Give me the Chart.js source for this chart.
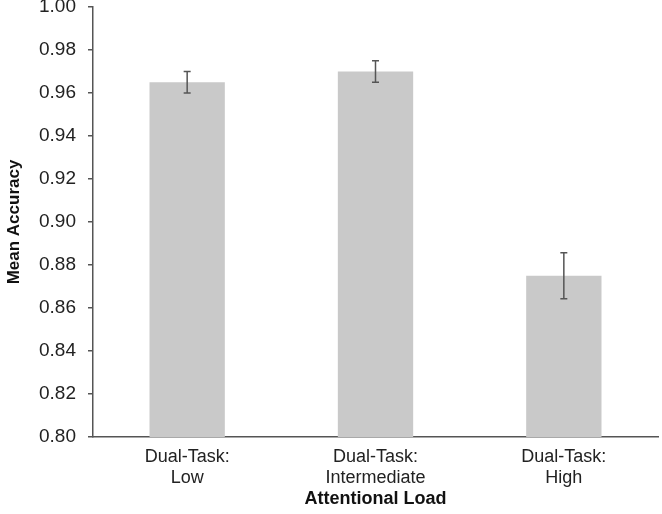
<!DOCTYPE html>
<html>
<head>
<meta charset="utf-8">
<script src="https://cdn.jsdelivr.net/npm/chart.js@4"></script>
<style>
  html, body { margin: 0; padding: 0; background: #fff; }
  #wrap { width: 662px; height: 514px; }
</style>
</head>
<body>
<div id="wrap"><canvas id="chart" width="662" height="514"></canvas></div>
<script>
// categorías y valores
const categories = [['Dual-Task:', 'Low'], ['Dual-Task:', 'Intermediate'], ['Dual-Task:', 'High']];
const meanAccuracy = [0.965, 0.970, 0.875];
const errorValues = [0.005, 0.005, 0.0107];
const yTicks = [0.80, 0.82, 0.84, 0.86, 0.88, 0.90, 0.92, 0.94, 0.96, 0.98, 1.00];

// barras de error dibujadas con las escalas del gráfico
const errorBarPlugin = {
  id: 'errorBars',
  afterDatasetsDraw(chart) {
    const ctx = chart.ctx;
    const x = chart.scales.x;
    const y = chart.scales.y;
    ctx.save();
    ctx.strokeStyle = '#555';
    ctx.lineWidth = 1.5;
    meanAccuracy.forEach((v, i) => {
      const cx = x.getPixelForValue(i);
      const top = y.getPixelForValue(v + errorValues[i]);
      const bot = y.getPixelForValue(v - errorValues[i]);
      ctx.beginPath();
      ctx.moveTo(cx, top); ctx.lineTo(cx, bot);
      ctx.moveTo(cx - 3.5, top); ctx.lineTo(cx + 3.5, top);
      ctx.moveTo(cx - 3.5, bot); ctx.lineTo(cx + 3.5, bot);
      ctx.stroke();
    });
    ctx.restore();
  }
};

const ctx = document.getElementById('chart').getContext('2d');
new Chart(ctx, {
  type: 'bar',
  data: {
    labels: categories,
    datasets: [{
      data: meanAccuracy,
      backgroundColor: '#c9c9c9',
      barPercentage: 0.4,
      categoryPercentage: 1.0,
    }],
  },
  options: {
    responsive: false,
    animation: false,
    layout: { padding: { top: 0, right: 4, left: 0, bottom: 0 } },
    plugins: { legend: { display: false }, tooltip: { enabled: false } },
    scales: {
      x: {
        grid: { display: false, drawTicks: false },
        border: { display: true, color: '#555', width: 1.5 },
        ticks: { color: '#222', font: { family: 'Liberation Sans', size: 18, lineHeight: 1.2 }, padding: 9, maxRotation: 0 },
        title: { display: true, text: 'Attentional Load', color: '#111', font: { family: 'Liberation Sans', size: 18, weight: 'bold' }, padding: { top: 2 } },
        afterFit: (s) => { s.height = 77; },
      },
      y: {
        min: 0.8,
        max: 1.0,
        afterBuildTicks: (s) => { s.ticks = yTicks.map(v => ({ value: v })); },
        grid: { drawOnChartArea: false, drawTicks: true, tickLength: 5, color: '#555', lineWidth: 1.5 },
        border: { display: true, color: '#555', width: 1.5 },
        ticks: { color: '#222', font: { family: 'Liberation Sans', size: 19 }, padding: 12, callback: (v) => Number(v).toFixed(2) },
        title: { display: true, text: 'Mean Accuracy', color: '#111', font: { family: 'Liberation Sans', size: 17, weight: 'bold' }, padding: { top: 4, bottom: 0 } },
        afterFit: (s) => { s.width = 93; s.paddingTop = 7; },
      },
    },
  },
  plugins: [errorBarPlugin],
});
</script>
</body>
</html>
